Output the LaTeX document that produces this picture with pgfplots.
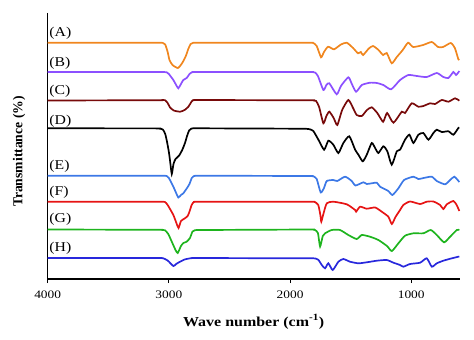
\documentclass[border=0pt]{standalone}
\usepackage{pgfplots}
\pgfplotsset{compat=1.18}
\usepackage{fontspec}
\setmainfont{Liberation Serif}
\newfontfamily\widefont{Liberation Serif}[FakeStretch=1.17]
\definecolor{cA}{RGB}{240,134,30}
\definecolor{cB}{RGB}{140,80,255}
\definecolor{cC}{RGB}{120,10,10}
\definecolor{cD}{RGB}{0,0,0}
\definecolor{cE}{RGB}{60,120,230}
\definecolor{cF}{RGB}{230,20,20}
\definecolor{cG}{RGB}{30,180,30}
\definecolor{cH}{RGB}{40,40,220}
\begin{document}
\begin{tikzpicture}
\begin{axis}[name=ax, width=412bp, height=266bp, scale only axis,
  x dir=reverse, xmin=600, xmax=4000,
  y dir=reverse, ymin=13, ymax=279,
  axis x line*=bottom, axis y line*=left,
  ytick=\empty, xtick={1000,2000,3000,4000}, xticklabels={1000,2000,3000,4000},
  xtick align=outside, major tick length=4bp,
  axis line style={line width=1.2pt, black},
  tick style={line width=1pt, black},
  /pgf/number format/assume math mode=true,
  xticklabel style={font=\widefont\fontsize{11.5}{13}\selectfont, yshift=-4.5bp},
  xlabel={Wave number (cm\textsuperscript{-1})},
  xlabel style={font=\widefont\bfseries\fontsize{13.7}{15}\selectfont, at={(axis description cs:0.5,0)}, anchor=center, yshift=-42.7bp},
  ylabel={Transmittance (\%)},
  ylabel style={font=\bfseries\fontsize{13.7}{15}\selectfont, at={(axis description cs:-0.0697,0.479)}, anchor=center},
  clip=false,
  every axis plot/.append style={line width=1.7pt, smooth, tension=0.35},
]
\addplot[cA] coordinates {(4000,42.7) (3100,42.7) (3070,42.7) (3050,42.9) (3030,44.5) (3010,52) (2995,60) (2970,65) (2925,68) (2890,63) (2860,56) (2840,49) (2820,44) (2800,42.8) (2780,42.7) (2750,42.7) (1850,42.7) (1825,42.7) (1808,43) (1780,46) (1744,57.3) (1720,52) (1686,46.7) (1637,49.3) (1580,44.5) (1532,42.7) (1480,48) (1439,53.3) (1416,52) (1397,55) (1350,48.5) (1315,46) (1270,50) (1232,55) (1202,53) (1161,63.3) (1119,57) (1070,50) (1026,42.7) (984,47) (902,45) (830,42) (779,47) (737,47) (674,43) (640,48) (611,59.3) (603,60)};
\addplot[cB] coordinates {(4000,72) (3080,72) (3050,72) (3018,72.3) (3000,74) (2963,80) (2940,85) (2922,88.3) (2900,84) (2881,80) (2853,78) (2830,74) (2811,72.3) (2790,72) (2760,72) (1850,72) (1820,72) (1794,72.5) (1770,76) (1725,90) (1700,85) (1676,83.3) (1615,94.3) (1580,86) (1519,77.3) (1490,84) (1455,91.7) (1408,85) (1340,82.7) (1284,83) (1230,85) (1166,89.3) (1092,80) (1024,75) (954,76) (872,77) (789,73) (735,77) (693,78) (652,72) (630,75) (603,71)};
\addplot[cC] coordinates {(4000,100.5) (3090,100.2) (3060,100) (3032,100.2) (3010,103) (2991,107.3) (2960,110.5) (2908,111.7) (2870,110) (2839,106.7) (2815,102) (2803,100.3) (2780,100) (2750,100) (1840,100.3) (1810,100.4) (1785,101) (1760,107) (1725,123.3) (1700,116) (1676,111.7) (1640,118) (1610,125) (1570,110) (1519,100) (1480,108) (1450,115) (1408,116) (1365,110) (1326,107.3) (1280,113) (1232,121.7) (1199,113) (1147,122.7) (1078,111.7) (1051,113) (996,103.3) (941,106.7) (900,106) (844,103.3) (803,104) (748,100) (693,101.7) (638,98.3) (603,100.7)};
\addplot[cD] coordinates {(4000,128.3) (3110,128.4) (3080,128.6) (3050,129.5) (3030,134) (3015,142) (3000,152) (2990,161) (2976,174) (2962,164) (2945,159) (2915,155.5) (2890,150) (2867,143) (2850,136) (2833,130.5) (2815,128.6) (2790,128.3) (2760,128.3) (1917,128.7) (1870,128.8) (1840,129.2) (1808,131) (1766,139.7) (1719,149.7) (1684,140.7) (1643,144.7) (1601,153) (1560,143) (1511,136.3) (1463,149.7) (1436,154.7) (1400,161.3) (1367,154.7) (1326,143) (1298,148) (1271,153) (1230,146.3) (1197,151.3) (1161,164.7) (1119,151.3) (1092,149.7) (1051,139.7) (1015,134.7) (982,143) (941,134.7) (900,133) (858,139.7) (817,133) (789,129.7) (748,132) (693,131.3) (652,134.7) (611,128) (603,127.5)};
\addplot[cE] coordinates {(4000,175.7) (3080,175.7) (3045,175.7) (3018,176) (3000,178) (2963,186.7) (2940,193) (2922,197.5) (2900,195) (2881,193.3) (2850,188) (2830,184) (2811,178) (2792,176) (2770,175.7) (2740,175.7) (1850,176) (1830,176) (1808,176.3) (1780,179) (1747,192.5) (1720,188) (1697,181) (1643,180) (1610,181) (1546,176.7) (1491,181) (1460,185.5) (1395,182.3) (1367,184) (1326,183.3) (1284,182.7) (1257,186.7) (1189,191) (1155,195) (1106,188.3) (1059,180) (982,176.7) (941,179) (886,177.7) (830,176.7) (789,181) (721,184.3) (679,180) (644,176.7) (603,182)};
\addplot[cF] coordinates {(4000,201.7) (3090,201.7) (3060,201.7) (3032,202) (3010,205) (2963,215) (2935,224) (2920,228) (2900,221) (2870,218.5) (2845,216) (2831,212) (2812,205) (2795,202) (2775,201.7) (2745,201.7) (1840,201.7) (1815,201.7) (1795,202) (1767,205) (1750,215) (1742,221.7) (1725,214) (1697,203.3) (1643,201.7) (1532,204.3) (1463,210) (1455,211.7) (1422,206.7) (1367,208.7) (1298,207.5) (1243,211.7) (1189,216.7) (1160,224) (1130,217) (1092,210) (1065,205) (1010,201.5) (927,204) (872,201.7) (817,201.5) (762,205) (735,209) (706,204.3) (652,201) (625,205) (603,211)};
\addplot[cG] coordinates {(4000,229.5) (3090,229.8) (3060,230) (3032,230.3) (3005,234) (2976,241.7) (2945,250) (2927,253) (2900,246) (2880,243) (2853,241.7) (2826,238) (2805,231.5) (2785,230.2) (2760,230) (2730,230) (1840,229.5) (1815,229.5) (1794,230) (1770,233) (1752,246.5) (1730,236) (1711,233.3) (1656,230) (1587,230) (1519,235) (1450,239) (1408,235) (1340,236.7) (1271,240) (1200,246) (1160,251) (1106,243.3) (1051,235.7) (982,233.3) (900,233.3) (839,230) (789,235) (729,242.3) (679,236.7) (624,230) (603,230)};
\addplot[cH] coordinates {(4000,258) (3100,258) (3070,258) (3046,258.3) (3010,260.5) (2963,266) (2940,264) (2908,261.7) (2870,259.5) (2825,258.3) (2800,258) (2770,258) (1918,258.3) (1820,258.3) (1790,258.5) (1765,260) (1738,265) (1711,268.3) (1684,263.3) (1648,270) (1601,261.7) (1560,259) (1505,261.7) (1436,263.3) (1367,262.3) (1284,260.7) (1202,260) (1147,262.7) (1092,265) (1065,266.7) (1010,264) (927,262.7) (872,258.3) (830,266.7) (789,263.3) (735,260.7) (665,258.3) (611,256.7) (603,256.5)};
\begin{scope}[every node/.style={anchor=west, inner sep=0pt, font=\widefont\fontsize{13.5}{15}\selectfont}]
\node at (axis cs:3987,33) {(A)};
\node at (axis cs:3987,63) {(B)};
\node at (axis cs:3987,91) {(C)};
\node at (axis cs:3987,121) {(D)};
\node at (axis cs:3987,166.7) {(E)};
\node at (axis cs:3987,192.7) {(F)};
\node at (axis cs:3987,219.3) {(G)};
\node at (axis cs:3987,248.3) {(H)};
\end{scope}
\end{axis}
\pgfresetboundingbox
\path[use as bounding box] ([shift={(-47.7bp,-61bp)}]ax.south west) rectangle ([shift={(14.3bp,13bp)}]ax.north east);
\end{tikzpicture}
\end{document}
